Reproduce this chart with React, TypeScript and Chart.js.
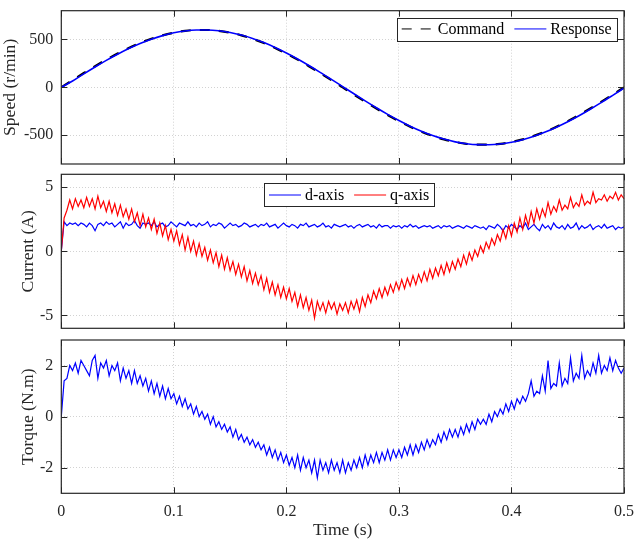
import { useEffect, useRef } from "react";
import { Chart, registerables } from "chart.js";

Chart.register(...registerables);

const FONT = '"Liberation Serif", "Times New Roman", serif';
const INK = "#262626";
const GRID = "#d2d2d2";

// ---------- tick values ----------
const TIME_TICKS = [0, 0.1, 0.2, 0.3, 0.4, 0.5];
const SPEED_TICKS = [-500, 0, 500];
const CURRENT_TICKS = [-5, 0, 5];
const TORQUE_TICKS = [-2, 0, 2];

// ---------- sampling ----------
const SPEED_STEP = 0.01; // s
const CURRENT_STEP = 0.0025; // s

// ---------- speed (r/min) ----------
const speedCommand = [
  0, 75.2, 149.2, 220.9, 289.1, 352.7, 410.7, 462.3, 506.6, 542.9,
  570.6, 589.4, 598.8, 598.8, 589.4, 570.6, 542.9, 506.6, 462.3, 410.7,
  352.7, 289.1, 220.9, 149.2, 75.2, 0, -75.2, -149.2, -220.9, -289.1,
  -352.7, -410.7, -462.3, -506.6, -542.9, -570.6, -589.4, -598.8, -598.8, -589.4,
  -570.6, -542.9, -506.6, -462.3, -410.7, -352.7, -289.1, -220.9, -149.2, -75.2, 0,
];
const speedResponse = [
  0, 66, 141, 213, 282, 346, 405, 458, 503, 540,
  569, 588, 598, 599, 591, 573, 546, 511, 467, 416,
  359, 296, 228, 157, 83, 8, -67, -141, -213, -282,
  -346, -405, -458, -503, -540, -569, -588, -598, -599, -591,
  -573, -546, -511, -467, -416, -359, -296, -228, -157, -83, -8,
];

// ---------- currents (A) ----------
const dAxis = [
  0, 2.3, 2.0, 2.2, 2.1, 2.2, 2.0, 2.2, 2.1, 1.9,
  2.2, 2.0, 1.6, 2.1, 2.2, 2.0, 2.3, 2.1, 2.2, 1.9,
  2.1, 2.3, 1.8, 2.2, 2.0, 2.1, 2.4, 2.0, 1.8, 2.2,
  2.1, 2.2, 2.0, 2.3, 1.9, 2.1, 2.2, 1.9, 2.0, 2.3,
  2.1, 1.9, 2.2, 2.1, 2.0, 2.3, 2.0, 2.1, 1.9, 2.2,
  2.0, 2.1, 2.3, 1.9, 2.1, 2.0, 2.2, 2.1, 1.8, 2.0,
  2.2, 2.0, 2.1, 1.9, 2.0, 2.2, 2.1, 1.9, 2.0, 2.1,
  1.9, 2.1, 2.0, 2.2, 1.9, 2.0, 2.1, 1.8, 2.0, 2.2,
  2.0, 1.9, 2.1, 2.0, 1.8, 2.1, 2.0, 2.2, 1.9, 2.0,
  2.1, 1.9, 2.0, 2.2, 1.9, 2.0, 1.8, 2.1, 2.0, 1.9,
  2.0, 2.1, 1.9, 2.0, 1.8, 2.0, 2.1, 1.9, 2.0, 2.1,
  1.9, 2.0, 1.8, 2.1, 1.9, 2.0, 2.0, 1.8, 2.0, 1.9,
  2.0, 1.8, 2.0, 1.9, 2.1, 1.9, 2.0, 1.8, 1.9, 2.0,
  1.9, 2.0, 1.8, 1.9, 2.0, 1.8, 2.0, 1.9, 2.0, 1.8,
  1.9, 2.0, 1.9, 1.8, 2.0, 1.9, 1.8, 2.0, 1.9, 1.8,
  1.9, 1.7, 2.0, 1.9, 1.8, 2.1, 1.9, 1.6, 2.0, 1.8,
  2.1, 1.9, 1.7, 2.0, 1.8, 2.2, 1.7, 1.9, 2.1, 1.8,
  1.6, 2.1, 1.8, 2.0, 1.7, 2.2, 1.9, 1.8, 2.0, 1.7,
  2.1, 1.8, 1.9, 2.2, 1.7, 2.0, 1.8, 1.9, 2.1, 1.7,
  1.9, 2.0, 1.8, 2.1, 1.8, 1.9, 2.0, 1.7, 1.9, 1.8,
  1.9,
];
const qAxis = [
  0, 2.6, 3.2, 4.0, 3.3, 4.1, 3.5, 4.0, 3.4, 4.2,
  3.5, 4.1, 3.3, 4.3, 3.4, 3.9, 3.1, 3.9, 3.0, 3.7,
  2.8, 3.6, 2.7, 3.3, 2.5, 3.3, 2.3, 3.0, 2.0, 2.9,
  1.9, 2.6, 1.7, 2.5, 1.4, 2.2, 1.2, 2.0, 0.9, 1.7,
  0.8, 1.6, 0.5, 1.3, 0.1, 1.1, 0.0, 0.8, -0.3, 0.6,
  -0.4, 0.3, -0.7, 0.1, -0.9, -0.1, -1.2, -0.3, -1.4, -0.5,
  -1.5, -0.8, -1.8, -1.0, -2.0, -1.2, -2.3, -1.5, -2.5, -1.7,
  -2.6, -1.9, -3.0, -2.1, -3.2, -2.4, -3.4, -2.6, -3.6, -2.8,
  -3.7, -2.9, -3.9, -3.2, -4.3, -3.4, -4.4, -3.6, -4.6, -3.8,
  -5.2, -3.9, -4.6, -4.0, -4.8, -3.9, -4.5, -4.0, -4.9, -4.1,
  -4.6, -4.0, -4.8, -3.9, -4.5, -3.8, -4.7, -3.6, -4.3, -3.4,
  -4.0, -3.1, -3.7, -2.9, -3.6, -2.8, -3.4, -2.6, -3.2, -2.4,
  -3.0, -2.2, -2.9, -2.1, -2.7, -1.9, -2.6, -1.8, -2.4, -1.6,
  -2.3, -1.4, -2.1, -1.3, -1.9, -1.1, -1.8, -0.9, -1.6, -0.8,
  -1.4, -0.6, -1.2, -0.3, -1.0, -0.1, -0.7, 0.1, -0.4, 0.4,
  -0.1, 0.7, 0.2, 1.0, 0.5, 1.3, 0.8, 1.7, 1.0, 2.0,
  1.2, 2.2, 1.5, 2.6, 1.7, 2.8, 2.0, 3.1, 2.2, 3.3,
  2.5, 3.3, 2.7, 3.8, 2.9, 3.5, 3.1, 4.0, 3.2, 3.6,
  3.3, 4.2, 3.4, 3.8, 3.5, 4.4, 3.6, 3.9, 3.7, 4.6,
  3.8, 4.1, 4.0, 4.4, 3.9, 4.3, 4.1, 4.6, 4.0, 4.4,
  4.1,
];

// ---------- torque (N.m) ----------
const torque = [
  0, 1.4, 1.5, 2.0, 1.8, 2.1, 1.7, 2.2, 2.0, 1.8,
  1.6, 2.2, 2.4, 1.5, 2.1, 1.9, 2.2, 1.6, 2.0, 1.8,
  2.1, 1.4, 1.9, 1.5, 1.8, 1.3, 1.8, 1.3, 1.6, 1.2,
  1.5, 1.0, 1.4, 0.9, 1.3, 0.8, 1.2, 0.7, 1.1, 0.7,
  0.9, 0.5, 0.8, 0.4, 0.7, 0.3, 0.5, 0.1, 0.4, 0.0,
  0.2, -0.1, 0.1, -0.3, 0.0, -0.4, -0.2, -0.5, -0.3, -0.6,
  -0.4, -0.8, -0.5, -0.9, -0.7, -1.0, -0.8, -1.1, -0.9, -1.2,
  -1.0, -1.3, -1.1, -1.5, -1.2, -1.6, -1.3, -1.7, -1.4, -1.8,
  -1.5, -1.9, -1.6, -2.0, -1.5, -2.1, -1.6, -2.0, -1.7, -2.2,
  -1.7, -2.4, -1.7, -2.1, -1.8, -2.2, -1.7, -2.1, -1.8, -2.2,
  -1.7, -2.2, -1.8, -2.1, -1.7, -2.0, -1.6, -2.0, -1.5, -1.9,
  -1.5, -1.8, -1.4, -1.8, -1.4, -1.7, -1.3, -1.7, -1.3, -1.6,
  -1.3, -1.6, -1.2, -1.5, -1.1, -1.5, -1.1, -1.4, -1.0, -1.3,
  -0.9, -1.2, -0.9, -1.1, -0.7, -1.0, -0.6, -0.9, -0.5, -0.8,
  -0.5, -0.8, -0.4, -0.7, -0.3, -0.6, -0.2, -0.5, -0.1, -0.3,
  -0.1, -0.3, 0.1, -0.2, 0.2, 0.0, 0.3, 0.1, 0.5, 0.2,
  0.6, 0.3, 0.7, 0.5, 0.8, 0.6, 0.9, 1.4, 0.8, 1.0,
  0.9, 1.6, 1.0, 2.2, 1.1, 1.3, 1.2, 2.1, 1.2, 1.5,
  1.3, 2.3, 1.4, 1.7, 1.5, 2.4, 1.5, 1.8, 1.6, 2.1,
  1.7, 2.4, 1.7, 2.0, 1.8, 2.3, 1.8, 2.2, 1.9, 1.7,
  1.9,
];

const toPoints = (ys: number[], step: number) =>
  ys.map((y, i) => ({ x: i * step, y }));

// ---------- plugins ----------
const framePlugin = {
  id: "matlabFrame",
  afterDatasetsDraw(chart: any) {
    const { ctx, chartArea, scales } = chart;
    const { left, right, top, bottom } = chartArea;
    const len = 6;
    ctx.save();
    ctx.strokeStyle = INK;
    ctx.lineWidth = 1;
    ctx.setLineDash([]);
    ctx.beginPath();
    scales.x.ticks.forEach((t: any) => {
      const px = Math.round(scales.x.getPixelForValue(t.value)) + 0.5;
      ctx.moveTo(px, bottom);
      ctx.lineTo(px, bottom - len);
      ctx.moveTo(px, top);
      ctx.lineTo(px, top + len);
    });
    scales.y.ticks.forEach((t: any) => {
      const py = Math.round(scales.y.getPixelForValue(t.value)) + 0.5;
      ctx.moveTo(left, py);
      ctx.lineTo(left + len, py);
      ctx.moveTo(right, py);
      ctx.lineTo(right - len, py);
    });
    ctx.stroke();
    ctx.lineWidth = 1.2;
    ctx.strokeRect(left, top, right - left, bottom - top);
    ctx.restore();
  },
};

type LegendEntry = { label: string; color: string; dash: number[]; width: number };
type LegendPlace = { anchor: "left" | "right"; dx: number; dy: number; h: number };

function makeLegend(entries: LegendEntry[], place: LegendPlace) {
  return {
    id: "boxLegend",
    afterDraw(chart: any) {
      const { ctx, chartArea } = chart;
      ctx.save();
      ctx.font = `16px ${FONT}`;
      const pad = 5, sample = 32, gap = 4, sep = 10;
      const widths = entries.map((e) => ctx.measureText(e.label).width);
      const w =
        pad * 2 +
        entries.reduce((s, _e, i) => s + sample + gap + widths[i], 0) +
        sep * (entries.length - 1);
      const x0 = place.anchor === "right" ? chartArea.right - place.dx - w : chartArea.left + place.dx;
      const y0 = chartArea.top + place.dy;
      ctx.fillStyle = "#ffffff";
      ctx.fillRect(x0, y0, w, place.h);
      ctx.strokeStyle = INK;
      ctx.lineWidth = 1;
      ctx.strokeRect(Math.round(x0) + 0.5, Math.round(y0) + 0.5, Math.round(w), Math.round(place.h));
      let x = x0 + pad;
      const cy = y0 + place.h / 2;
      entries.forEach((e, i) => {
        ctx.beginPath();
        ctx.setLineDash(e.dash);
        ctx.strokeStyle = e.color;
        ctx.lineWidth = e.width;
        ctx.moveTo(x, cy);
        ctx.lineTo(x + sample, cy);
        ctx.stroke();
        ctx.setLineDash([]);
        x += sample + gap;
        ctx.fillStyle = "#000000";
        ctx.textBaseline = "middle";
        ctx.textAlign = "left";
        ctx.fillText(e.label, x, cy + 1);
        x += widths[i] + sep;
      });
      ctx.restore();
    },
  };
}

// ---------- panel ----------
type PanelSpec = {
  top: number;
  height: number;
  padTop: number;
  xAxisHeight: number;
  showX: boolean;
  yMin: number;
  yMax: number;
  yTicks: number[];
  yTitle: string;
  yTitlePad: number;
  datasets: any[];
  legend: any;
};

function Panel({ spec }: { spec: PanelSpec }) {
  const ref = useRef<HTMLCanvasElement>(null);
  useEffect(() => {
    const chart = new Chart(ref.current!, {
      type: "line",
      data: { datasets: spec.datasets },
      plugins: [framePlugin, spec.legend],
      options: {
        animation: false,
        responsive: false,
        devicePixelRatio: 1,
        layout: {
          autoPadding: false,
          padding: { top: spec.padTop, right: 17, left: 0, bottom: 0 },
        },
        plugins: { legend: { display: false }, tooltip: { enabled: false } },
        elements: { point: { radius: 0 } },
        scales: {
          x: {
            type: "linear",
            min: 0,
            max: 0.5,
            afterBuildTicks: (axis: any) => {
              axis.ticks = TIME_TICKS.map((v) => ({ value: v }));
            },
            afterFit: (axis: any) => {
              axis.height = spec.xAxisHeight;
              axis.paddingLeft = 0;
              axis.paddingRight = 0;
              axis.paddingTop = 0;
              axis.paddingBottom = 0;
            },
            border: { display: false, dash: [1, 2] },
            grid: { color: GRID, lineWidth: 1, drawTicks: false },
            ticks: {
              display: spec.showX,
              padding: 9,
              color: INK,
              font: { family: FONT, size: 16 },
              maxRotation: 0,
              callback: (v: any) => String(v),
            },
            title: {
              display: spec.showX,
              text: "Time (s)",
              color: INK,
              font: { family: FONT, size: 17.6 },
              padding: { top: 0, bottom: 2.4 },
            },
          },
          y: {
            type: "linear",
            min: spec.yMin,
            max: spec.yMax,
            afterBuildTicks: (axis: any) => {
              axis.ticks = spec.yTicks.map((v) => ({ value: v }));
            },
            afterFit: (axis: any) => {
              axis.width = 61.3;
              axis.paddingLeft = 0;
              axis.paddingRight = 0;
              axis.paddingTop = 0;
              axis.paddingBottom = 0;
            },
            border: { display: false, dash: [1, 2] },
            grid: { color: GRID, lineWidth: 1, drawTicks: false },
            ticks: {
              padding: 8,
              color: INK,
              font: { family: FONT, size: 16 },
              callback: (v: any) => String(v),
            },
            title: {
              display: true,
              text: spec.yTitle,
              color: INK,
              font: { family: FONT, size: 17.6 },
              padding: { top: spec.yTitlePad, bottom: 0 },
            },
          },
        },
      } as any,
    });
    return () => chart.destroy();
  }, []);
  return (
    <canvas
      ref={ref}
      width={641}
      height={spec.height}
      style={{ position: "absolute", left: 0, top: spec.top, width: 641, height: spec.height }}
    />
  );
}

const speedPanel: PanelSpec = {
  top: 0,
  height: 170,
  padTop: 10.7,
  xAxisHeight: 6,
  showX: false,
  yMin: -800,
  yMax: 800,
  yTicks: SPEED_TICKS,
  yTitle: "Speed (r/min)",
  yTitlePad: 0,
  datasets: [
    {
      label: "Response",
      data: toPoints(speedResponse, SPEED_STEP),
      borderColor: "#0000ff",
      borderWidth: 1.6,
      cubicInterpolationMode: "monotone",
      order: 0,
    },
    {
      label: "Command",
      data: toPoints(speedCommand, SPEED_STEP),
      borderColor: "#000000",
      borderWidth: 2.2,
      borderDash: [10, 9],
      cubicInterpolationMode: "monotone",
      order: 1,
    },
  ],
  legend: makeLegend(
    [
      { label: "Command", color: "#000000", dash: [10, 9], width: 1 },
      { label: "Response", color: "#0000ff", dash: [], width: 1 },
    ],
    { anchor: "right", dx: 7.3, dy: 7, h: 22.5 }
  ),
};

const currentPanel: PanelSpec = {
  top: 170,
  height: 165,
  padTop: 4.3,
  xAxisHeight: 6.7,
  showX: false,
  yMin: -6,
  yMax: 6,
  yTicks: CURRENT_TICKS,
  yTitle: "Current (A)",
  yTitlePad: 17.7,
  datasets: [
    {
      label: "q-axis",
      data: toPoints(qAxis, CURRENT_STEP),
      borderColor: "#ff0000",
      borderWidth: 1.2,
      order: 0,
    },
    {
      label: "d-axis",
      data: toPoints(dAxis, CURRENT_STEP),
      borderColor: "#0000ff",
      borderWidth: 1.2,
      order: 1,
    },
  ],
  legend: makeLegend(
    [
      { label: "d-axis", color: "#0000ff", dash: [], width: 1 },
      { label: "q-axis", color: "#ff0000", dash: [], width: 1 },
    ],
    { anchor: "left", dx: 202.7, dy: 9, h: 23.4 }
  ),
};

const torquePanel: PanelSpec = {
  top: 335,
  height: 208,
  padTop: 5,
  xAxisHeight: 49.7,
  showX: true,
  yMin: -3,
  yMax: 3,
  yTicks: TORQUE_TICKS,
  yTitle: "Torque (N.m)",
  yTitlePad: 17.7,
  datasets: [
    {
      label: "Torque",
      data: toPoints(torque, CURRENT_STEP),
      borderColor: "#0000ff",
      borderWidth: 1.2,
    },
  ],
  legend: { id: "noLegend" },
};

export default function App() {
  return (
    <div
      style={{
        position: "absolute",
        left: 0,
        top: 0,
        width: 641,
        height: 543,
        background: "#ffffff",
        overflow: "hidden",
      }}
    >
      <Panel spec={speedPanel} />
      <Panel spec={currentPanel} />
      <Panel spec={torquePanel} />
    </div>
  );
}
